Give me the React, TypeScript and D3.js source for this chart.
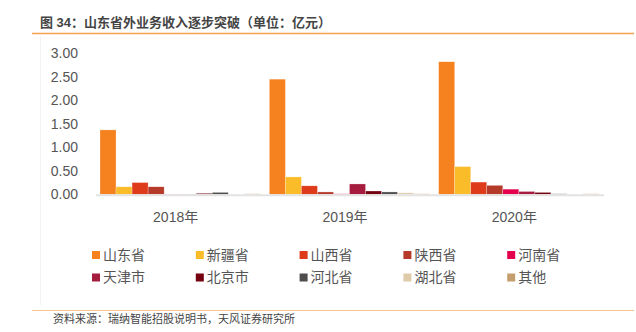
import React from "react";
import * as d3 from "d3";

const years = ["2018年", "2019年", "2020年"];
const seriesNames = ["山东省", "新疆省", "山西省", "陕西省", "河南省", "天津市", "北京市", "河北省", "湖北省", "其他"];
const shandong = [1.37, 2.45, 2.82];
const xinjiang = [0.16, 0.37, 0.59];
const shanxi = [0.25, 0.18, 0.26];
const shaanxi = [0.16, 0.05, 0.19];
const henan = [0.005, 0.01, 0.11];
const tianjin = [0.005, 0.22, 0.06];
const beijing = [0.02, 0.07, 0.04];
const hebei = [0.04, 0.05, 0.01];
const hubei = [0.0, 0.03, 0.003];
const other = [0.01, 0.01, 0.01];
const seriesValues = [shandong, xinjiang, shanxi, shaanxi, henan, tianjin, beijing, hebei, hubei, other];
const colors = ["#F5821F", "#FBBC2A", "#DE3B1B", "#B53A2A", "#E5004F", "#A51C3F", "#740010", "#4D4D4D", "#DFCBAA", "#C49E6C"];
const yTicks = [0, 0.5, 1, 1.5, 2, 2.5, 3];

const FONT = "'Liberation Sans', 'Noto Sans CJK SC', sans-serif";

export default function App() {
  const W = 636, H = 332;
  const x0 = d3.scaleBand<string>().domain(years).range([96, 604]).padding(0);
  const x1 = d3.scaleBand<number>().domain(d3.range(seriesNames.length)).range([4, x0.bandwidth() - 5]).padding(0);
  const y = d3.scaleLinear().domain([0, 3]).range([194.3, 53.3]);

  return (
    <svg width={W} height={H} style={{ position: "absolute", left: 0, top: 0 }} fontFamily={FONT}>
      <rect x={0} y={0} width={W} height={H} fill="#fff" />
      <text x={40} y={27} fontSize={13} fontWeight="bold" fill="#444">图 34：山东省外业务收入逐步突破（单位：亿元）</text>
      <line x1={32} x2={634} y1={33.5} y2={33.5} stroke="#F5A04F" strokeWidth={1.5} />
      <line x1={40.5} x2={40.5} y1={36} y2={305} stroke="#f3f3f3" />
      {yTicks.map((t) => (
        <text key={t} x={78} y={y(t)} dy="0.35em" textAnchor="end" fontSize={14} fill="#555">
          {d3.format(".2f")(t)}
        </text>
      ))}
      {years.map((yr, gi) => (
        <g key={yr} transform={`translate(${x0(yr)},0)`}>
          {seriesValues.map((vals, si) => {
            const v = vals[gi];
            const top = y(v);
            return (
              <rect key={si} x={x1(si)} y={top} width={x1.bandwidth()} height={Math.max(0, y(0) - top)}
                fill={colors[si]} stroke="#fff" strokeOpacity={0.5} strokeWidth={0.5} />
            );
          })}
          <text x={x0.bandwidth() / 2 - 5} y={217} dy="0.35em" textAnchor="middle" fontSize={14} fill="#555">{yr}</text>
        </g>
      ))}
      <line x1={96} x2={604} y1={y(0) + 1} y2={y(0) + 1} stroke="#e3e3e3" strokeWidth={2} />
      {seriesNames.map((name, i) => {
        const col = i % 5, row = Math.floor(i / 5);
        const lx = 92 + col * 103.8, ly = 255 + row * 22.5;
        return (
          <g key={name}>
            <rect x={lx} y={ly - 4} width={8} height={8} fill={colors[i]} />
            <text x={lx + 11} y={ly} dy="0.35em" fontSize={14} fill="#555">{name}</text>
          </g>
        );
      })}
      <line x1={32} x2={634} y1={310.5} y2={310.5} stroke="#F8C490" strokeWidth={1.2} />
      <text x={53} y={323} fontSize={11} fill="#444">资料来源：瑞纳智能招股说明书，天风证券研究所</text>
    </svg>
  );
}
